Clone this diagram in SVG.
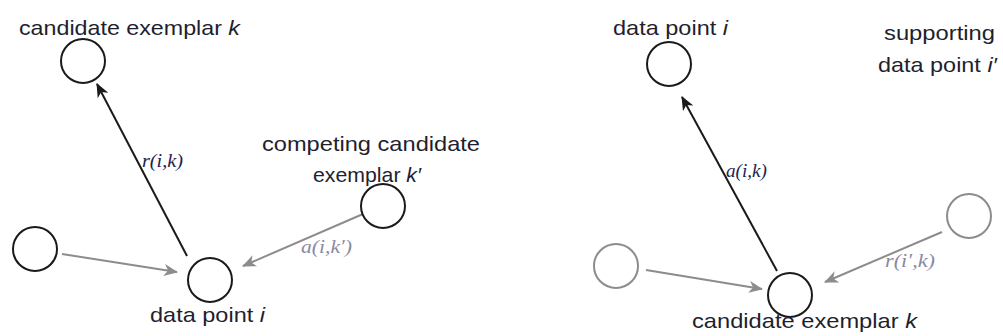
<svg xmlns="http://www.w3.org/2000/svg" width="1003" height="336" viewBox="0 0 1003 336">
  <style>
    .node { fill: #fff; stroke-width: 2; }
    .dark { stroke: #1a1a1a; }
    .light { stroke: #8c8c8c; }
    .lbl { font-family: "Liberation Sans", "Noto Sans", sans-serif; font-size: 21px; fill: #1f1f2e; }
    .math { font-family: "Liberation Serif", serif; font-style: italic; font-size: 19px; }
    .mdark { fill: #1d2350; }
    .mlight { fill: #8a8aa3; }
    .edge { fill: none; stroke-width: 2; }
  </style>
  <defs>
    <marker id="headDark" viewBox="0 0 14 12" refX="13" refY="6" markerWidth="14" markerHeight="12" markerUnits="userSpaceOnUse" orient="auto">
      <path d="M0,0 L14,6 L0,12 L4,6 z" fill="#1a1a1a"/>
    </marker>
    <marker id="headLight" viewBox="0 0 14 12" refX="13" refY="6" markerWidth="14" markerHeight="12" markerUnits="userSpaceOnUse" orient="auto">
      <path d="M0,0 L14,6 L0,12 L4,6 z" fill="#8c8c8c"/>
    </marker>
  </defs>

  <!-- connectors -->
  <g id="connectors">
    <!-- responsibility panel -->
    <line class="edge dark" x1="187" y1="256" x2="97" y2="84" marker-end="url(#headDark)"/>
    <line class="edge light" x1="62" y1="254" x2="177" y2="272" marker-end="url(#headLight)"/>
    <line class="edge light" x1="363" y1="214" x2="243" y2="266" marker-end="url(#headLight)"/>
    <!-- availability panel -->
    <line class="edge dark" x1="777" y1="271" x2="682" y2="97" marker-end="url(#headDark)"/>
    <line class="edge light" x1="646" y1="270" x2="762" y2="289" marker-end="url(#headLight)"/>
    <line class="edge light" x1="942" y1="232" x2="825" y2="282" marker-end="url(#headLight)"/>
  </g>

  <!-- edge labels -->
  <g id="edge-labels">
    <text class="math mdark" x="142" y="167" textLength="41" lengthAdjust="spacingAndGlyphs">r(i,k)</text>
    <text class="math mlight" x="301" y="253" textLength="51" lengthAdjust="spacingAndGlyphs">a(i,k′)</text>
    <text class="math mdark" x="726" y="177" textLength="41" lengthAdjust="spacingAndGlyphs">a(i,k)</text>
    <text class="math mlight" x="885" y="267" textLength="50" lengthAdjust="spacingAndGlyphs">r(i′,k)</text>
  </g>

  <!-- left panel nodes -->
  <g id="node-candidate-k">
    <circle class="node dark" cx="83" cy="61" r="22"/>
    <text class="lbl" x="19" y="35" textLength="221" lengthAdjust="spacingAndGlyphs">candidate exemplar <tspan font-style="italic">k</tspan></text>
  </g>
  <g id="node-data-i">
    <circle class="node dark" cx="210" cy="280" r="22"/>
    <text class="lbl" x="150" y="322" textLength="115" lengthAdjust="spacingAndGlyphs">data point <tspan font-style="italic">i</tspan></text>
  </g>
  <g id="node-other">
    <circle class="node dark" cx="35" cy="249" r="22"/>
  </g>
  <g id="node-competing-k2">
    <circle class="node dark" cx="383" cy="206" r="22"/>
    <text class="lbl" x="262" y="151" textLength="218" lengthAdjust="spacingAndGlyphs">competing candidate</text>
    <text class="lbl" x="313" y="182" textLength="108" lengthAdjust="spacingAndGlyphs">exemplar <tspan font-style="italic">k′</tspan></text>
  </g>

  <!-- right panel nodes -->
  <g id="node-avail-data-i">
    <circle class="node dark" cx="669" cy="64" r="22"/>
    <text class="lbl" x="613" y="35" textLength="115" lengthAdjust="spacingAndGlyphs">data point <tspan font-style="italic">i</tspan></text>
  </g>
  <g id="node-avail-candidate-k">
    <circle class="node dark" cx="790" cy="295" r="22"/>
    <text class="lbl" x="692" y="328" textLength="225" lengthAdjust="spacingAndGlyphs">candidate exemplar <tspan font-style="italic">k</tspan></text>
  </g>
  <g id="node-avail-other">
    <circle class="node light" cx="616" cy="266" r="22"/>
  </g>
  <g id="node-supporting-i2">
    <circle class="node light" cx="969" cy="216" r="22"/>
    <text class="lbl" x="884" y="40" textLength="111" lengthAdjust="spacingAndGlyphs">supporting</text>
    <text class="lbl" x="878" y="72" textLength="119" lengthAdjust="spacingAndGlyphs">data point <tspan font-style="italic">i′</tspan></text>
  </g>
</svg>
